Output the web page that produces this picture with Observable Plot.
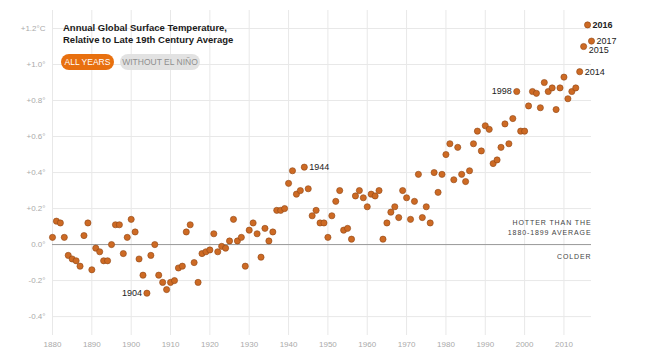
<!DOCTYPE html>
<html><head><meta charset="utf-8">
<script src="https://cdn.jsdelivr.net/npm/d3@7"></script>
<script src="https://cdn.jsdelivr.net/npm/@observablehq/plot@0.6"></script>
<style>
body{margin:0;background:#fff;font-family:"Liberation Sans",Arial,sans-serif;}
#wrap{position:relative;width:650px;height:360px;overflow:hidden;}
#title{position:absolute;left:63px;top:22px;font-weight:bold;font-size:9.5px;line-height:12px;color:#1a1a1a;white-space:nowrap;}
.btn{position:absolute;top:54px;height:16px;border-radius:8px;font-size:8.5px;line-height:16px;text-align:center;white-space:nowrap;}
</style></head><body>
<div id="wrap"><div id="chart"></div><div id="title"></div>
<div class="btn" id="b1" style="left:61px;width:53px;background:#e8700f;color:#fff"></div>
<div class="btn" id="b2" style="left:120px;width:80px;background:#e2e2e2;color:#8f8f8f"></div>
</div>
<script>
const titleLines = ["Annual Global Surface Temperature,", "Relative to Late 19th Century Average"];
const buttons = ["ALL YEARS", "WITHOUT EL NIÑO"];
const startYear = 1880;
const anomalies = [
 0.04, 0.13, 0.12, 0.04,-0.06,-0.08,-0.09,-0.12, 0.05, 0.12,
-0.14,-0.02,-0.04,-0.09,-0.09, 0.00, 0.11, 0.11,-0.05, 0.04,
 0.14, 0.07,-0.08,-0.17,-0.27,-0.06, 0.00,-0.17,-0.21,-0.25,
-0.21,-0.20,-0.13,-0.12, 0.07, 0.11,-0.10,-0.21,-0.05,-0.04,
-0.03, 0.06,-0.04,-0.01,-0.02, 0.02, 0.14, 0.02, 0.04,-0.12,
 0.08, 0.12, 0.06,-0.07, 0.09, 0.02, 0.07, 0.19, 0.19, 0.20,
 0.34, 0.41, 0.28, 0.30, 0.43, 0.31, 0.16, 0.19, 0.12, 0.12,
 0.04, 0.16, 0.24, 0.30, 0.08, 0.09, 0.03, 0.27, 0.30, 0.26,
 0.21, 0.28, 0.27, 0.30, 0.03, 0.12, 0.18, 0.21, 0.15, 0.30,
 0.26, 0.14, 0.24, 0.39, 0.15, 0.21, 0.12, 0.40, 0.29, 0.39,
 0.50, 0.56, 0.36, 0.54, 0.39, 0.35, 0.41, 0.56, 0.63, 0.52,
 0.66, 0.64, 0.45, 0.47, 0.54, 0.67, 0.56, 0.70, 0.85, 0.63,
 0.63, 0.77, 0.85, 0.84, 0.76, 0.90, 0.85, 0.87, 0.75, 0.87,
 0.93, 0.81, 0.85, 0.87, 0.96, 1.10, 1.22, 1.13
];
const xTicks = [1880,1890,1900,1910,1920,1930,1940,1950,1960,1970,1980,1990,2000,2010];
const yTicks = [-0.4,-0.2,0,0.2,0.4,0.6,0.8,1.0,1.2];
const yTickLabels = ["-0.4°","-0.2°","0.0°","+0.2°","+0.4°","+0.6°","+0.8°","+1.0°","+1.2°C"];
const leftLabels = [1904, 1998];
const rightLabels = [1944, 2014, 2017];
const belowRightLabels = [2015];
const boldLabels = [2016];
const notesAbove = ["HOTTER THAN THE", "1880-1899 AVERAGE"];
const notesBelow = ["COLDER"];

document.getElementById("title").innerHTML = titleLines.join("<br>");
document.getElementById("b1").textContent = buttons[0];
document.getElementById("b2").textContent = buttons[1];

const data = anomalies.map((v, i) => ({year: startYear + i, value: v}));
const pick = ys => data.filter(d => ys.includes(d.year));
const font = '"Liberation Sans", Arial, sans-serif';
const lab = {fontSize: 9, fill: "#222", text: d => String(d.year), x: "year", y: "value"};

const chart = Plot.plot({
  width: 650, height: 360,
  marginLeft: 52, marginRight: 59, marginTop: 10, marginBottom: 25,
  style: {fontFamily: font, background: "#fff", overflow: "visible"},
  x: {domain: [1880, 2017]},
  y: {domain: [-0.505, 1.3]},
  marks: [
    Plot.gridX(xTicks, {stroke: "#e8e8e8", strokeOpacity: 1}),
    Plot.gridY(yTicks, {stroke: "#e8e8e8", strokeOpacity: 1}),
    Plot.ruleY([0], {stroke: "#9a9a9a"}),
    Plot.axisX(xTicks, {tickSize: 0, tickPadding: 6, fontSize: 8, fill: "#aaa", tickFormat: d => String(d), label: null}),
    Plot.axisY(yTicks, {tickSize: 0, tickPadding: 7, fontSize: 8, fill: "#aaa", tickFormat: d => yTickLabels[yTicks.indexOf(d)], label: null}),
    Plot.dot(data, {x: "year", y: "value", r: 3.1, fill: "#cd6a24", stroke: "#8e4716", strokeWidth: 0.6}),
    Plot.text(pick(leftLabels), {...lab, textAnchor: "end", dx: -5}),
    Plot.text(pick(rightLabels), {...lab, textAnchor: "start", dx: 5}),
    Plot.text(pick(belowRightLabels), {...lab, textAnchor: "start", dx: 5, dy: 4}),
    Plot.text(pick(boldLabels), {...lab, textAnchor: "start", dx: 5, fontWeight: "bold"}),
    Plot.text([notesAbove[0]], {x: () => 2017, y: () => 0, text: d => d, textAnchor: "end", dy: -21.5, fontSize: 7, fill: "#444"}),
    Plot.text([notesAbove[1]], {x: () => 2017, y: () => 0, text: d => d, textAnchor: "end", dy: -12.3, fontSize: 7, fill: "#444"}),
    Plot.text(notesBelow, {x: () => 2017, y: () => 0, text: d => d, textAnchor: "end", dy: 12, fontSize: 7, fill: "#444"})
  ]
});
d3.select(chart).selectAll("text").each(function() {
  if (notesAbove.includes(this.textContent) || notesBelow.includes(this.textContent)) this.setAttribute("letter-spacing", "0.9");
});
document.getElementById("chart").appendChild(chart);
</script>
</body></html>
